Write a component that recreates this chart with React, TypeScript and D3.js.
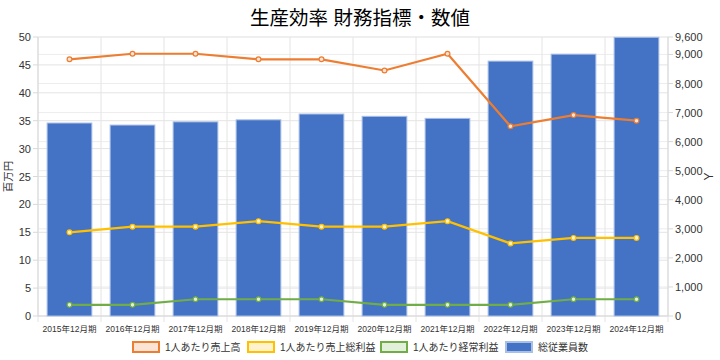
import React from "react";
import * as d3 from "d3";

const categories = ["2015年12月期","2016年12月期","2017年12月期","2018年12月期","2019年12月期","2020年12月期","2021年12月期","2022年12月期","2023年12月期","2024年12月期"];
const salesPerPerson = [46, 47, 47, 46, 46, 44, 47, 34, 36, 35];
const grossProfitPerPerson = [15, 16, 16, 17, 16, 16, 17, 13, 14, 14];
const ordinaryProfitPerPerson = [2, 2, 3, 3, 3, 2, 2, 2, 3, 3];
const employees = [6640, 6570, 6680, 6750, 6950, 6870, 6800, 8770, 9010, 9590];
const leftTicks = [0, 5, 10, 15, 20, 25, 30, 35, 40, 45, 50];
const rightTicks = [0, 1000, 2000, 3000, 4000, 5000, 6000, 7000, 8000, 9000, 9600];

const lineSeries = [
  { name: "1人あたり売上高", values: salesPerPerson, color: "#ED7D31", fill: "#FBE3D5" },
  { name: "1人あたり売上総利益", values: grossProfitPerPerson, color: "#FFC000", fill: "#FFF2CC" },
  { name: "1人あたり経常利益", values: ordinaryProfitPerPerson, color: "#70AD47", fill: "#E2EFDA" },
];

const FONT = "'Liberation Sans', 'Noto Sans CJK JP', sans-serif";

export default function App() {
  const W = 720, H = 360;
  const x0 = 38, x1 = 668, yTop = 37, yBot = 316;
  const xBand = d3.scaleBand<string>().domain(categories).range([x0, x1]).paddingInner(0).paddingOuter(0);
  const step = xBand.step();
  const barW = step * 0.71;
  const yL = d3.scaleLinear().domain([0, 50]).range([yBot, yTop]);
  const yR = d3.scaleLinear().domain([0, 9600]).range([yBot, yTop]);
  const cx = (c: string) => (xBand(c) as number) + step / 2;

  const legendItems = [
    { name: lineSeries[0].name, stroke: lineSeries[0].color, fill: lineSeries[0].fill, x: 133 },
    { name: lineSeries[1].name, stroke: lineSeries[1].color, fill: lineSeries[1].fill, x: 248 },
    { name: lineSeries[2].name, stroke: lineSeries[2].color, fill: lineSeries[2].fill, x: 381 },
    { name: "総従業員数", stroke: "#A9BFE6", fill: "#4472C4", x: 506 },
  ];

  return (
    <svg width={W} height={H} style={{ position: "absolute", left: 0, top: 0, background: "#fff" }} fontFamily={FONT}>
      <rect x={0} y={0} width={W} height={H} fill="#fff" />
      <text x={360} y={25} textAnchor="middle" fontSize={19.5} fill="#000">生産効率 財務指標・数値</text>

      {/* horizontal grid */}
      {leftTicks.map((t) => (
        <line key={"gl" + t} x1={x0} x2={x1} y1={yL(t)} y2={yL(t)} stroke="#E4E4E4" strokeWidth={1} />
      ))}
      {rightTicks.map((t) => (
        <line key={"gr" + t} x1={x0} x2={x1} y1={yR(t)} y2={yR(t)} stroke="#EDEDED" strokeWidth={1} />
      ))}
      {/* vertical grid */}
      {d3.range(categories.length + 1).map((i) => (
        <line key={"gv" + i} x1={x0 + i * step} x2={x0 + i * step} y1={yTop} y2={yBot + 6} stroke="#E4E4E4" strokeWidth={1} />
      ))}

      {/* axes */}
      <line x1={x0} x2={x0} y1={yTop} y2={yBot} stroke="#D9D9D9" />
      <line x1={x1} x2={x1} y1={yTop} y2={yBot} stroke="#D9D9D9" />
      <line x1={x0} x2={x1} y1={yBot} y2={yBot} stroke="#D9D9D9" />
      {leftTicks.map((t) => (
        <g key={"lt" + t}>
          <line x1={x0 - 5} x2={x0} y1={yL(t)} y2={yL(t)} stroke="#D9D9D9" />
          <text x={x0 - 7} y={yL(t) + 4} textAnchor="end" fontSize={11} fill="#333">{t}</text>
        </g>
      ))}
      {rightTicks.map((t) => (
        <g key={"rt" + t}>
          <line x1={x1} x2={x1 + 5} y1={yR(t)} y2={yR(t)} stroke="#D9D9D9" />
          <text x={x1 + 7} y={yR(t) + 4} textAnchor="start" fontSize={11} fill="#333">{d3.format(",")(t)}</text>
        </g>
      ))}
      <text transform={`translate(12,${(yTop + yBot) / 2}) rotate(-90)`} textAnchor="middle" fontSize={10.5} fill="#333">百万円</text>
      <text transform={`translate(713,${(yTop + yBot) / 2}) rotate(-90)`} textAnchor="middle" fontSize={12} fill="#333">Y</text>

      {/* bars */}
      {categories.map((c, i) => (
        <rect key={"b" + c} x={cx(c) - barW / 2} y={yR(employees[i])} width={barW} height={yBot - yR(employees[i])}
          fill="#4472C4" stroke="#A9BFE6" strokeWidth={1} />
      ))}

      {/* lines */}
      {lineSeries.map((s) => {
        const line = d3.line<number>().x((_, i) => cx(categories[i])).y((v) => yL(v));
        return (
          <g key={s.name}>
            <path d={line(s.values) || ""} fill="none" stroke={s.color} strokeWidth={2.2} />
            {s.values.map((v, i) => (
              <circle key={i} cx={cx(categories[i])} cy={yL(v)} r={2.4} fill={s.fill} stroke={s.color} strokeWidth={1.2} />
            ))}
          </g>
        );
      })}

      {/* x labels */}
      {categories.map((c) => (
        <text key={"xl" + c} x={cx(c)} y={332} textAnchor="middle" fontSize={8.5} fill="#333">{c}</text>
      ))}

      {/* legend */}
      {legendItems.map((l) => (
        <g key={"lg" + l.name}>
          <rect x={l.x} y={342} width={26} height={10} fill={l.fill} stroke={l.stroke} strokeWidth={2} />
          <text x={l.x + 32} y={351} fontSize={10} fill="#333">{l.name}</text>
        </g>
      ))}
    </svg>
  );
}
